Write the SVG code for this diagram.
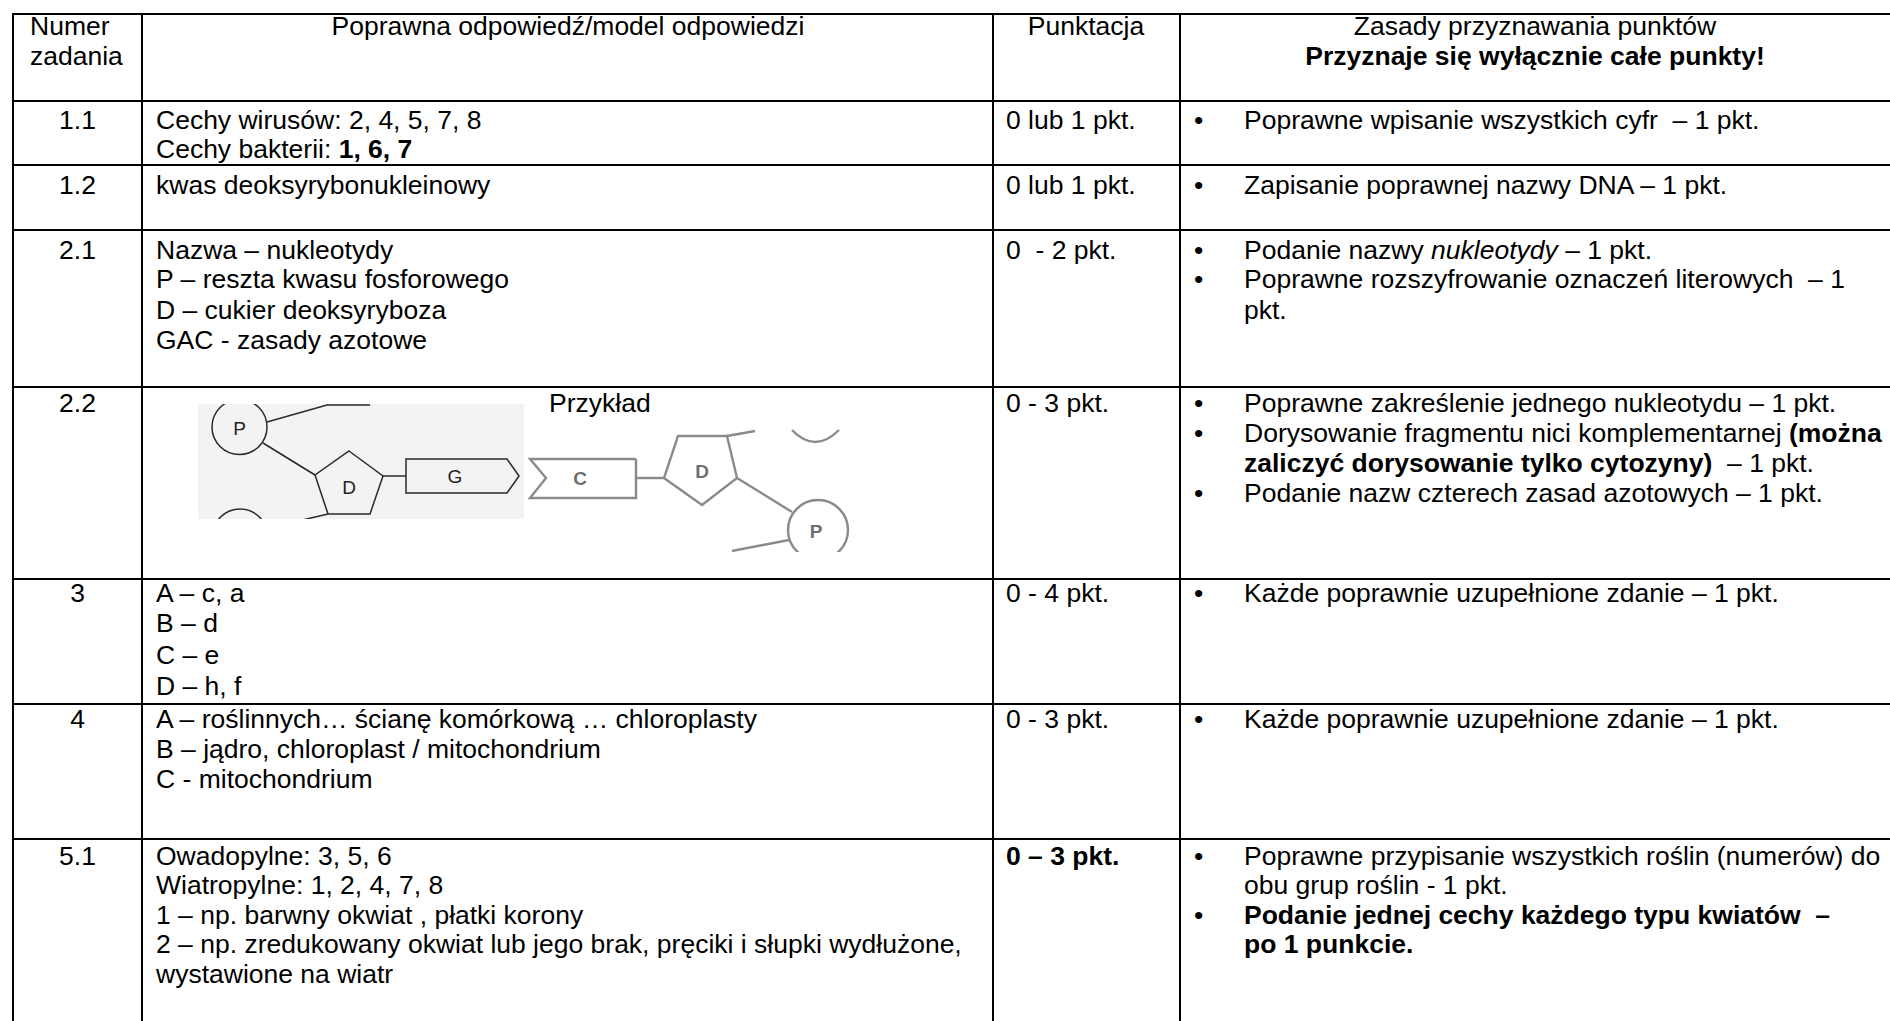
<svg xmlns="http://www.w3.org/2000/svg" width="1890" height="1021" viewBox="0 0 1890 1021" xml:space="preserve">
<style>
.t{font-family:"Liberation Sans",Arial,sans-serif;font-size:26.5px;fill:#000;white-space:pre}
.b{font-weight:bold}
.c{text-anchor:middle}
.i{font-style:italic}
.ln{stroke:#000;stroke-width:2;fill:none}
.dk{stroke:#2a2a2a;stroke-width:1.5;fill:none}
.gy{stroke:#8a8a8a;stroke-width:2.4;fill:none}
.lt{font-family:"Liberation Sans",Arial,sans-serif;font-size:19px;fill:#222;text-anchor:middle}
.lg{font-family:"Liberation Sans",Arial,sans-serif;font-size:19px;font-weight:bold;fill:#6e6e6e;text-anchor:middle}
</style>
<rect width="1890" height="1021" fill="#fff"/>
<g id="grid" class="ln">
<line x1="13" y1="14" x2="1890" y2="14"/>
<line x1="13" y1="101" x2="1890" y2="101"/>
<line x1="13" y1="165" x2="1890" y2="165"/>
<line x1="13" y1="230" x2="1890" y2="230"/>
<line x1="13" y1="387" x2="1890" y2="387"/>
<line x1="13" y1="579" x2="1890" y2="579"/>
<line x1="13" y1="704" x2="1890" y2="704"/>
<line x1="13" y1="839" x2="1890" y2="839"/>
<line x1="13" y1="13" x2="13" y2="1021"/>
<line x1="142" y1="13" x2="142" y2="1021"/>
<line x1="993" y1="13" x2="993" y2="1021"/>
<line x1="1180" y1="13" x2="1180" y2="1021"/>
</g>
<g id="header" class="t">
<text class="t" x="30" y="35">Numer</text>
<text class="t" x="30" y="65">zadania</text>
<text class="t c" x="568" y="35">Poprawna odpowiedź/model odpowiedzi</text>
<text class="t c" x="1086" y="35">Punktacja</text>
<text class="t c" x="1535" y="35">Zasady przyznawania punktów</text>
<text class="t c b" x="1535" y="65">Przyznaje się wyłącznie całe punkty!</text>
</g>
<g id="row-1-1" class="t">
<text class="t c" x="77.5" y="129">1.1</text>
<text class="t" x="156" y="129">Cechy wirusów: 2, 4, 5, 7, 8</text>
<text class="t" x="156" y="158">Cechy bakterii: <tspan class="b">1, 6, 7</tspan></text>
<text class="t" x="1006" y="129">0 lub 1 pkt.</text>
<text class="t" x="1194" y="129">•</text>
<text class="t" x="1244" y="129">Poprawne wpisanie wszystkich cyfr  – 1 pkt.</text>
</g>
<g id="row-1-2" class="t">
<text class="t c" x="77.5" y="194">1.2</text>
<text class="t" x="156" y="194">kwas deoksyrybonukleinowy</text>
<text class="t" x="1006" y="194">0 lub 1 pkt.</text>
<text class="t" x="1194" y="194">•</text>
<text class="t" x="1244" y="194">Zapisanie poprawnej nazwy DNA – 1 pkt.</text>
</g>
<g id="row-2-1" class="t">
<text class="t c" x="77.5" y="259">2.1</text>
<text class="t" x="156" y="259">Nazwa – nukleotydy</text>
<text class="t" x="156" y="288">P – reszta kwasu fosforowego</text>
<text class="t" x="156" y="319">D – cukier deoksyryboza</text>
<text class="t" x="156" y="349">GAC - zasady azotowe</text>
<text class="t" x="1006" y="259">0  - 2 pkt.</text>
<text class="t" x="1194" y="259">•</text>
<text class="t" x="1244" y="259">Podanie nazwy <tspan class="i">nukleotydy</tspan> – 1 pkt.</text>
<text class="t" x="1194" y="288">•</text>
<text class="t" x="1244" y="288">Poprawne rozszyfrowanie oznaczeń literowych  – 1</text>
<text class="t" x="1244" y="319">pkt.</text>
</g>
<g id="row-2-2" class="t">
<text class="t c" x="77.5" y="412">2.2</text>
<text class="t" x="549" y="412">Przykład</text>
<text class="t" x="1006" y="412">0 - 3 pkt.</text>
<text class="t" x="1194" y="412">•</text>
<text class="t" x="1244" y="412">Poprawne zakreślenie jednego nukleotydu – 1 pkt.</text>
<text class="t" x="1194" y="442">•</text>
<text class="t" x="1244" y="442">Dorysowanie fragmentu nici komplementarnej <tspan class="b">(można</tspan></text>
<text class="t" x="1244" y="472"><tspan class="b">zaliczyć dorysowanie tylko cytozyny)</tspan>  – 1 pkt.</text>
<text class="t" x="1194" y="502">•</text>
<text class="t" x="1244" y="502">Podanie nazw czterech zasad azotowych – 1 pkt.</text>
</g>
<g id="dna-example">
<defs><clipPath id="cl"><rect x="198" y="404" width="326" height="115"/></clipPath>
<clipPath id="cr"><rect x="525" y="420" width="340" height="132"/></clipPath></defs>
<rect x="198" y="404" width="326" height="115" fill="#f3f3f3"/>
<g clip-path="url(#cl)" class="dk">
<circle cx="239.5" cy="427" r="27.5"/>
<polyline points="267,422 327,405 370,405"/>
<line x1="263" y1="443" x2="315" y2="475"/>
<polygon points="349,451 383,476 370,514 328,514 315,475"/>
<line x1="383" y1="476" x2="406" y2="476"/>
<polygon points="406,459 507,459 519,476 507,493 406,493"/>
<circle cx="240" cy="536.5" r="27.5"/>
<line x1="328" y1="514" x2="298" y2="521"/>
</g>
<text class="lt" x="239.5" y="435">P</text>
<text class="lt" x="349" y="494">D</text>
<text class="lt" x="455" y="483">G</text>
<g clip-path="url(#cr)" class="gy">
<polyline points="636,459 530,459 546,478 530,498 636,498 636,459"/>
<line x1="636" y1="478" x2="664" y2="478"/>
<polygon points="678,436 727,436 737,478 702,505 664,478"/>
<line x1="727" y1="436" x2="755" y2="431"/>
<path d="M792,430 Q815,454 839,430"/>
<line x1="737" y1="478" x2="792" y2="512"/>
<circle cx="818" cy="530" r="30"/>
<line x1="789" y1="540" x2="732" y2="551"/>
</g>
<text class="lg" x="580" y="485">C</text>
<text class="lg" x="702" y="478">D</text>
<text class="lg" x="816" y="538">P</text>
</g>
<g id="row-3" class="t">
<text class="t c" x="77.5" y="602">3</text>
<text class="t" x="156" y="602">A – c, a</text>
<text class="t" x="156" y="632">B – d</text>
<text class="t" x="156" y="664">C – e</text>
<text class="t" x="156" y="695">D – h, f</text>
<text class="t" x="1006" y="602">0 - 4 pkt.</text>
<text class="t" x="1194" y="602">•</text>
<text class="t" x="1244" y="602">Każde poprawnie uzupełnione zdanie – 1 pkt.</text>
</g>
<g id="row-4" class="t">
<text class="t c" x="77.5" y="728">4</text>
<text class="t" x="156" y="728">A – roślinnych… ścianę komórkową … chloroplasty</text>
<text class="t" x="156" y="758">B – jądro, chloroplast / mitochondrium</text>
<text class="t" x="156" y="788">C - mitochondrium</text>
<text class="t" x="1006" y="728">0 - 3 pkt.</text>
<text class="t" x="1194" y="728">•</text>
<text class="t" x="1244" y="728">Każde poprawnie uzupełnione zdanie – 1 pkt.</text>
</g>
<g id="row-5-1" class="t">
<text class="t c" x="77.5" y="865">5.1</text>
<text class="t" x="156" y="865">Owadopylne: 3, 5, 6</text>
<text class="t" x="156" y="894">Wiatropylne: 1, 2, 4, 7, 8</text>
<text class="t" x="156" y="924">1 – np. barwny okwiat , płatki korony</text>
<text class="t" x="156" y="953">2 – np. zredukowany okwiat lub jego brak, pręciki i słupki wydłużone,</text>
<text class="t" x="156" y="983">wystawione na wiatr</text>
<text class="t b" x="1006" y="865">0 – 3 pkt.</text>
<text class="t" x="1194" y="865">•</text>
<text class="t" x="1244" y="865">Poprawne przypisanie wszystkich roślin (numerów) do</text>
<text class="t" x="1244" y="894">obu grup roślin - 1 pkt.</text>
<text class="t" x="1194" y="924">•</text>
<text class="t b" x="1244" y="924">Podanie jednej cechy każdego typu kwiatów  –</text>
<text class="t b" x="1244" y="953">po 1 punkcie.</text>
</g>
</svg>
